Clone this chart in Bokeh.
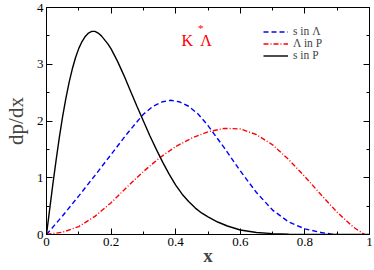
from bokeh.plotting import figure
from bokeh.models import (LinearAxis, FixedTicker, Range1d, Legend, LegendItem, Label,
                          CustomLabelingPolicy)
from bokeh.embed import file_html
from bokeh.resources import INLINE

# s in P (black solid)
x_sP = [0, 0.01, 0.02, 0.03, 0.04, 0.05, 0.06, 0.07, 0.08, 0.09, 0.1, 0.11, 0.12, 0.13, 0.14,
        0.15, 0.16, 0.17, 0.18, 0.19, 0.2, 0.22, 0.24, 0.26, 0.28, 0.3, 0.32, 0.34, 0.36, 0.38,
        0.4, 0.42, 0.44, 0.46, 0.48, 0.5, 0.53, 0.56, 0.6, 0.65, 0.7, 0.75, 0.8, 0.9, 1.0]
y_sP = [0, 0.45, 0.9, 1.32, 1.72, 2.08, 2.4, 2.68, 2.92, 3.12, 3.28, 3.4, 3.49, 3.55, 3.58,
        3.58, 3.55, 3.5, 3.43, 3.36, 3.27, 3.05, 2.8, 2.53, 2.26, 2.0, 1.74, 1.5, 1.27, 1.06,
        0.87, 0.71, 0.58, 0.47, 0.38, 0.31, 0.22, 0.15, 0.08, 0.035, 0.015, 0.005, 0.0, 0, 0]

# s in Lambda (blue dashed)
x_sL = [0, 0.05, 0.1, 0.15, 0.2, 0.25, 0.3, 0.33, 0.36, 0.385, 0.41, 0.44, 0.47, 0.5, 0.55,
        0.6, 0.65, 0.7, 0.75, 0.8, 0.85, 0.88, 0.9]
y_sL = [0, 0.33, 0.68, 1.04, 1.41, 1.78, 2.12, 2.26, 2.34, 2.365, 2.34, 2.26, 2.12, 1.92, 1.53,
        1.12, 0.74, 0.43, 0.22, 0.1, 0.035, 0.01, 0]

# Lambda in P (red dash-dot)
x_LP = [0, 0.05, 0.1, 0.15, 0.2, 0.25, 0.3, 0.35, 0.4, 0.45, 0.5, 0.55, 0.6, 0.65, 0.7,
        0.75, 0.8, 0.85, 0.9, 0.95, 0.985]
y_LP = [0, 0.04, 0.14, 0.32, 0.56, 0.84, 1.11, 1.35, 1.55, 1.70, 1.81, 1.87, 1.86, 1.76, 1.58,
        1.32, 1.02, 0.7, 0.39, 0.13, 0]

x_ticks = [0, 0.2, 0.4, 0.6, 0.8, 1.0]
x_tick_labels = ["0", "0.2", "0.4", "0.6", "0.8", "1"]
x_minor = [0.1, 0.3, 0.5, 0.7, 0.9]
y_ticks = [0, 1, 2, 3, 4]
y_tick_labels = ["0", "1", "2", "3", "4"]
y_minor = [0.5, 1.5, 2.5, 3.5]

FONT = "Liberation Serif"

p = figure(width=374, height=270, x_range=Range1d(0, 1), y_range=Range1d(0, 4),
           output_backend="svg", toolbar_location=None,
           min_border_left=42, min_border_right=5, min_border_top=7, min_border_bottom=36)
p.grid.visible = False
p.outline_line_color = "black"
p.outline_line_width = 1

xt = FixedTicker(ticks=x_ticks, minor_ticks=x_minor)
yt = FixedTicker(ticks=y_ticks, minor_ticks=y_minor)

no_labels = CustomLabelingPolicy(code="""
const arr = Array.from(indices)
for (const i of arr) indices.unset(i)
return indices
""")

def style(ax, ticker, labels=None):
    ax.ticker = ticker
    ax.axis_line_color = "black"
    ax.major_tick_in = 6
    ax.major_tick_out = 0
    ax.minor_tick_in = 3
    ax.minor_tick_out = 0
    ax.major_tick_line_color = "black"
    ax.minor_tick_line_color = "black"
    if labels is not None:
        ax.major_label_overrides = labels
        ax.major_label_text_font = FONT
        ax.major_label_text_font_size = "13px"
        ax.major_label_text_color = "black"
        ax.major_label_standoff = 3
    else:
        ax.major_label_policy = no_labels
        ax.major_label_text_font_size = "1px"
        ax.major_label_standoff = 0

style(p.xaxis[0], xt, {t: l for t, l in zip(x_ticks, x_tick_labels)})
style(p.yaxis[0], yt, {t: l for t, l in zip(y_ticks, y_tick_labels)})
p.xaxis[0].axis_label = "x"
p.xaxis[0].axis_label_text_font = FONT
p.xaxis[0].axis_label_text_font_size = "19px"
p.xaxis[0].axis_label_text_font_style = "bold"
p.xaxis[0].axis_label_standoff = -4
p.yaxis[0].axis_label = "dp/dx"
p.yaxis[0].axis_label_text_font = FONT
p.yaxis[0].axis_label_text_font_size = "21px"
p.yaxis[0].axis_label_text_font_style = "normal"
p.yaxis[0].axis_label_standoff = 6

top = LinearAxis()
style(top, xt)
p.add_layout(top, "above")
right = LinearAxis()
style(right, yt)
p.add_layout(right, "right")

r1 = p.line(x_sL, y_sL, line_color="#0000ff", line_width=1.4, line_dash="5 3")
r2 = p.line(x_LP, y_LP, line_color="#ff0000", line_width=1.4, line_dash="5 2 1 2")
r3 = p.line(x_sP, y_sP, line_color="black", line_width=1.4)

legend = Legend(items=[LegendItem(label="s in \u039b", renderers=[r1]),
                       LegendItem(label="\u039b in P", renderers=[r2]),
                       LegendItem(label="s in P", renderers=[r3])],
                location=(217, 173), border_line_color=None, background_fill_alpha=0,
                padding=0, margin=0, spacing=0, label_height=9, glyph_height=9,
                glyph_width=25, label_standoff=5,
                label_text_font=FONT, label_text_font_size="11.5px")
p.add_layout(legend)

p.add_layout(Label(x=0.418, y=3.42, text="K", text_font=FONT, text_font_size="16px",
                   text_color="red", text_baseline="alphabetic"))
p.add_layout(Label(x=0.476, y=3.42, text="\u039b", text_font=FONT, text_font_size="16px",
                   text_color="red", text_baseline="alphabetic"))
p.add_layout(Label(x=0.469, y=3.63, text="*", text_font=FONT, text_font_size="11px",
                   text_color="red", text_baseline="alphabetic"))

open("out.html", "w").write(file_html(p, INLINE))
